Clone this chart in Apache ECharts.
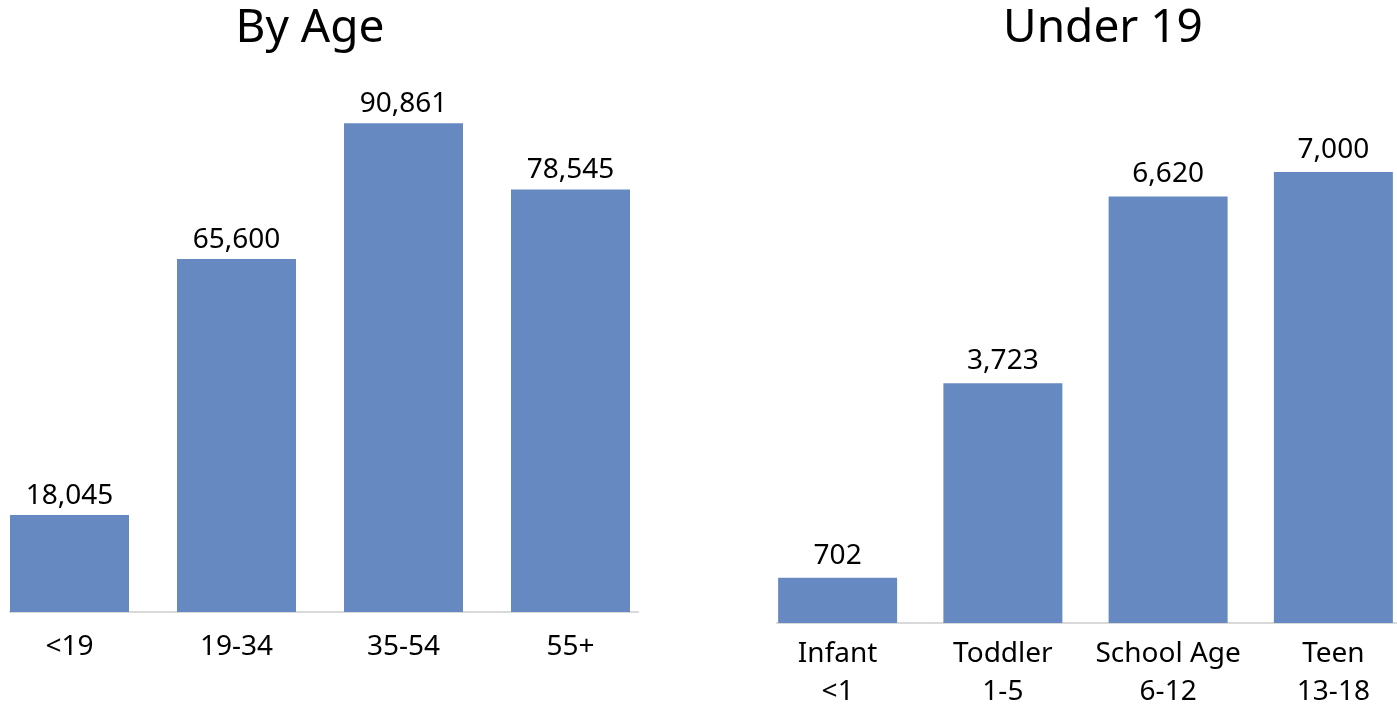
<!DOCTYPE html>
<html>
<head>
<meta charset="utf-8">
<script src="https://cdn.jsdelivr.net/npm/echarts@6/dist/echarts.min.js"></script>
<style>
  html, body { margin: 0; padding: 0; background: #fff; }
  #chart { width: 1397px; height: 707px; }
</style>
</head>
<body>
<div id="chart"></div>
<script>
// Population by age group
const ageCategories = ['<19', '19-34', '35-54', '55+'];
const ageValues = [18045, 65600, 90861, 78545];

// Breakdown of the under-19 group
const youthCategories = ['Infant\n<1', 'Toddler\n1-5', 'School Age\n6-12', 'Teen\n13-18'];
const youthValues = [702, 3723, 6620, 7000];

const titles = ['By Age', 'Under 19'];

const BAR_COLOR = '#6789C2';
const AXIS_COLOR = '#D9D9D9';
const FONT = '"Noto Sans", "Open Sans", sans-serif';

const chart = echarts.init(document.getElementById('chart'), null, { renderer: 'canvas' });

const fmt = v => v.toLocaleString('en-US');

function axisX(gridIndex, data, margin) {
  return {
    type: 'category', gridIndex, data,
    axisLine: { show: false },
    axisTick: { show: false },
    axisLabel: { color: '#000', fontFamily: FONT, fontSize: 28, lineHeight: 38, margin, interval: 0 }
  };
}
function axisY(gridIndex, max) {
  return { type: 'value', gridIndex, min: 0, max, show: false, splitLine: { show: false } };
}
// Baseline-only axes (no labels) drawn in their own grids
function baseX(gridIndex) {
  return {
    type: 'value', gridIndex, min: 0, max: 1,
    axisLine: { show: true, onZero: false, lineStyle: { color: AXIS_COLOR, width: 2 } },
    axisTick: { show: false }, axisLabel: { show: false }, splitLine: { show: false }
  };
}
function baseY(gridIndex) {
  return { type: 'value', gridIndex, min: 0, max: 1, show: false, splitLine: { show: false } };
}
function barSeries(idx, data, distance) {
  return {
    type: 'bar', xAxisIndex: idx, yAxisIndex: idx, data,
    barWidth: 119,
    itemStyle: { color: BAR_COLOR },
    label: {
      show: true, position: 'top', distance,
      color: '#000', fontFamily: FONT, fontSize: 28,
      formatter: p => fmt(p.value)
    },
    silent: true
  };
}

chart.setOption({
  animation: false,
  title: [
    { text: titles[0], left: 305, top: 1, textAlign: 'center',
      textStyle: { fontFamily: FONT, fontSize: 46, fontWeight: 'normal', color: '#000' } },
    { text: titles[1], left: 1098, top: 1, textAlign: 'center',
      textStyle: { fontFamily: FONT, fontSize: 46, fontWeight: 'normal', color: '#000' } }
  ],
  grid: [
    { left: -14, width: 668, top: 74, bottom: 95, outerBoundsMode: 'none' },
    { left: 755, width: 661, top: 107.6, bottom: 84, outerBoundsMode: 'none' },
    { left: 10, width: 628, top: 74, bottom: 95, outerBoundsMode: 'none' },
    { left: 777, width: 620, top: 107.6, bottom: 84, outerBoundsMode: 'none' }
  ],
  xAxis: [axisX(0, ageCategories, 16), axisX(1, youthCategories, 12), baseX(2), baseX(3)],
  yAxis: [axisY(0, 100000), axisY(1, 8000), baseY(2), baseY(3)],
  series: [barSeries(0, ageValues, 5), barSeries(1, youthValues, 8)]
});
</script>
</body>
</html>
